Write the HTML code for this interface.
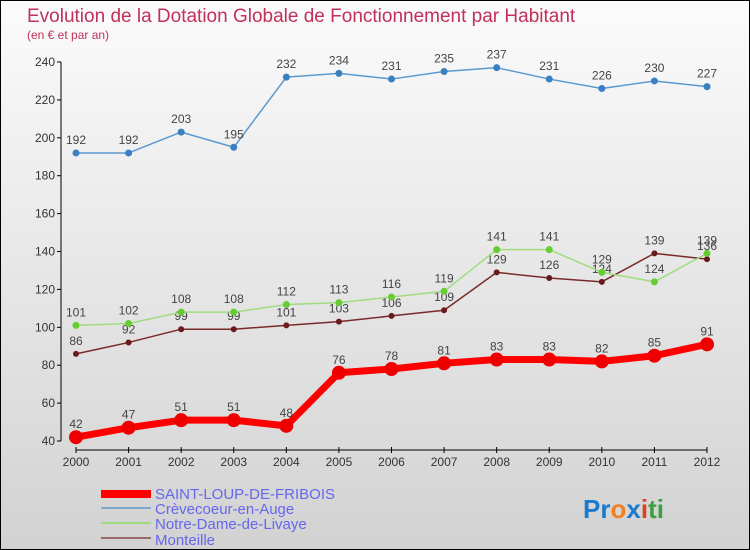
<!DOCTYPE html>
<html><head><meta charset="utf-8"><style>
body{margin:0}
#c{width:748px;height:548px;border:1px solid #000;background:linear-gradient(#fbfbfb,#d2d2d2);position:relative;font-family:"Liberation Sans",sans-serif;overflow:hidden}
</style></head><body>
<div id="c">
<svg width="748" height="548" id="s">
<text x="26" y="21" font-size="19" fill="#c0305a">Evolution de la Dotation Globale de Fonctionnement par Habitant</text>
<text x="26" y="38" font-size="12" fill="#c0305a">(en € et par an)</text>
<g id="axes"></g><g id="series"></g>
<g>
<rect x="100" y="489" width="50" height="8" fill="#f00"/>
<text x="154" y="498" font-size="15" fill="#6666ee">SAINT-LOUP-DE-FRIBOIS</text>
<line x1="100" y1="507" x2="150" y2="507" stroke="#7fa8cf" stroke-width="2"/>
<text x="154" y="513" font-size="15" fill="#6666ee">Crèvecoeur-en-Auge</text>
<line x1="100" y1="522" x2="150" y2="522" stroke="#9fdc7f" stroke-width="2"/>
<text x="154" y="528" font-size="15" fill="#6666ee">Notre-Dame-de-Livaye</text>
<line x1="100" y1="537" x2="150" y2="537" stroke="#9a6b6b" stroke-width="2"/>
<text x="154" y="544" font-size="15" fill="#6666ee">Monteille</text>
</g>
<text x="582" y="517" font-size="26" font-weight="bold"><tspan fill="#1a7acc">Pr</tspan><tspan fill="#f08020">o</tspan><tspan fill="#1a7acc">x</tspan><tspan fill="#e04020">i</tspan><tspan fill="#3aa040">ti</tspan></text>
</svg></div>
<script>
const years=[2000,2001,2002,2003,2004,2005,2006,2007,2008,2009,2010,2011,2012];
const yTicks=[40,60,80,100,120,140,160,180,200,220,240];
const saintLoup=[42,47,51,51,48,76,78,81,83,83,82,85,91];
const crevecoeur=[192,192,203,195,232,234,231,235,237,231,226,230,227];
const notreDame=[101,102,108,108,112,113,116,119,141,141,129,124,139];
const monteille=[86,92,99,99,101,103,106,109,129,126,124,139,136];
const NS="http://www.w3.org/2000/svg";
const X=i=>75+i*(706-75)/(years.length-1);
const Y=v=>440-(v-40)*(379/200);
function mk(t,a,p){const e=document.createElementNS(NS,t);for(const k in a)e.setAttribute(k,a[k]);p.appendChild(e);return e;}
const ax=document.getElementById('axes');
let l=mk('line',{x1:60,y1:Y(240),x2:60,y2:Y(40),stroke:'#000'},ax);


yTicks.forEach(v=>{
 mk('line',{x1:56,x2:60,y1:Y(v),y2:Y(v),stroke:'#000'},ax);
 const t=mk('text',{x:54,y:Y(v)+4,'font-size':12,'text-anchor':'end',fill:'#333'},ax);
 t.textContent=v;
 
 
});
l=mk('line',{x1:X(0),y1:449,x2:X(12),y2:449,stroke:'#000'},ax);


years.forEach((y,i)=>{
 mk('line',{x1:X(i),x2:X(i),y1:446,y2:452,stroke:'#000'},ax);
 const t=mk('text',{x:X(i),y:465,'font-size':12,'text-anchor':'middle',fill:'#333'},ax);
 t.textContent=y;
 
 
});
const sg=document.getElementById('series');
function draw(vals,name,color,lw,r,dot,lc){
 const g=mk('g',{},sg);
 
 
 const p=mk('polyline',{points:vals.map((v,i)=>X(i)+','+Y(v)).join(' '),fill:'none',stroke:color,'stroke-width':lw,'stroke-linejoin':'round'},g);
 
 
 vals.forEach((v,i)=>{
  const c=mk('circle',{cx:X(i),cy:Y(v),r:r,fill:dot},g);
  
  
  const t=mk('text',{x:X(i),y:Y(v)-9,'font-size':12,'text-anchor':'middle',fill:lc},g);
  t.textContent=v;
  
  
 });
}
draw(monteille,'monteille','#7a2a2a',1.5,3,'#6a1a1a','#444');
draw(notreDame,'notre-dame','#9fdc7f',1.5,3.5,'#66cc33','#444');
draw(crevecoeur,'crevecoeur','#5a9ad0',1.5,3.5,'#3a80c0','#444');
draw(saintLoup,'saint-loup','#ff0000',7,7,'#ee0000','#444');
</script>
</body></html>
